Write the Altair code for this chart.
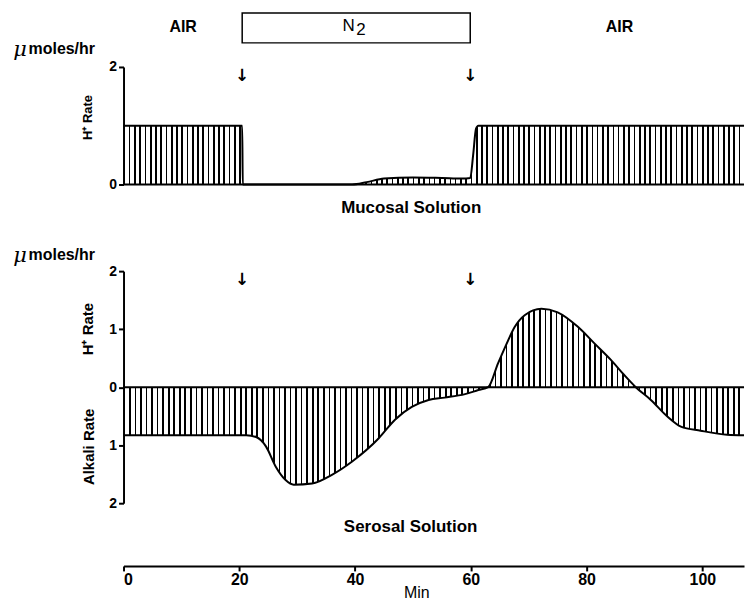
import altair as alt
import pandas as pd

# ---- data ----
mucosal_min = [0, 20.5, 20.6, 39.5, 42.0, 45.0, 50.0, 55.0, 58.5, 59.9, 60.4, 60.9, 61.3, 107.2]
mucosal_rate = [1.0, 1.0, 0.0, 0.0, 0.04, 0.10, 0.12, 0.11, 0.10, 0.11, 0.5, 0.95, 1.0, 1.0]

serosal_min = [0, 21.2, 22.9, 24.6, 26.3, 28.0, 29.4, 32.6, 36.0, 39.5, 44.1, 46.9, 49.8, 52.7,
               55.5, 59.0, 61.3, 63.0, 64.7, 66.1, 67.6, 69.3, 72.2, 75.0, 78.5, 81.4, 84.2,
               86.5, 88.5, 91.1, 94.0, 96.3, 99.7, 104.3, 107.2]
serosal_rate = [-0.83, -0.83, -0.86, -1.02, -1.37, -1.60, -1.68, -1.66, -1.51, -1.28, -0.88, -0.56,
                -0.34, -0.22, -0.18, -0.12, -0.05, 0.0, 0.41, 0.73, 1.04, 1.24, 1.35, 1.29, 1.04,
                0.75, 0.47, 0.21, 0.0, -0.22, -0.51, -0.68, -0.75, -0.82, -0.83]

x_ticks = [0, 20, 40, 60, 80, 100]
top_y_ticks = [0, 1, 2]
bottom_y_ticks = [-2, -1, 0, 1, 2]

XMAX = 107.2
PLOT_W = 623
FONT = "Liberation Sans"

mucosal = pd.DataFrame({"min": mucosal_min, "rate": mucosal_rate})
serosal = pd.DataFrame({"min": serosal_min, "rate": serosal_rate})
one = alt.Data(values=[{"k": 0}])


def stripes(n, w):
    stops = []
    for k in range(n):
        a = k / n
        b = (k + w) / n
        stops += [
            alt.GradientStop(offset=a, color="black"),
            alt.GradientStop(offset=b, color="black"),
            alt.GradientStop(offset=b, color="white"),
            alt.GradientStop(offset=(k + 1) / n, color="white"),
        ]
    return alt.LinearGradient(gradient="linear", stops=stops, x1=0, x2=1, y1=0, y2=0)


def label(text, x, y, size=16, weight="bold", angle=0, align="center", font=FONT, style="normal"):
    return alt.Chart(one).mark_text(
        text=text, fontSize=size, fontWeight=weight, angle=angle, align=align,
        baseline="middle", font=font, color="black", fontStyle=style
    ).encode(x=alt.datum(x), y=alt.datum(y))


xs = alt.Scale(domain=[0, XMAX], nice=False, zero=False)

# ---------------- top panel (mucosal) ----------------
top_y = alt.Y("rate:Q", scale=alt.Scale(domain=[0, 2], nice=False),
              axis=alt.Axis(values=top_y_ticks, title=None, tickSize=5, labelFontSize=14,
                            labelPadding=2, format="d"))
area_t = alt.Chart(mucosal).mark_area(interpolate="monotone", fill=stripes(118, 0.32)).encode(
    x=alt.X("min:Q", scale=xs, axis=None), y=top_y)
line_t = alt.Chart(mucosal).mark_line(interpolate="monotone", color="black", strokeWidth=2).encode(
    x="min:Q", y="rate:Q")
zero_t = alt.Chart(one).mark_rule(color="black", strokeWidth=2).encode(y=alt.datum(0))
box = alt.Chart(one).mark_rect(fill="white", stroke="black", strokeWidth=1.5).encode(
    x=alt.datum(20.5), x2=alt.datum(59.9), y=alt.datum(2.92), y2=alt.datum(2.41))

top = alt.layer(
    area_t, line_t, zero_t, box,
    label("AIR", 10.3, 2.68),
    label("N", 38.9, 2.70, size=17, weight="normal"),
    label("2", 41.0, 2.63, size=17, weight="normal"),
    label("AIR", 85.7, 2.68),
    label("↓", 20.5, 1.84, size=17, font="DejaVu Sans"),
    label("↓", 59.9, 1.84, size=17, font="DejaVu Sans"),
    label("μ", -17.9, 2.29, size=21, weight="normal", style="italic", font="DejaVu Serif"),
    label("moles/hr", -16.4, 2.31, size=16, align="left"),
    label("H⁺ Rate", -6.2, 1.14, size=13, angle=270),
    label("Mucosal Solution", 49.7, -0.40, size=17),
).properties(width=PLOT_W, height=118)

# ---------------- bottom panel (serosal) ----------------
bot_y = alt.Y("rate:Q", scale=alt.Scale(domain=[-2, 2], nice=False),
              axis=alt.Axis(values=bottom_y_ticks, title=None, tickSize=5, labelFontSize=14,
                            labelPadding=2, labelExpr="'' + abs(datum.value)"))
bot_x = alt.X("min:Q", scale=xs,
              axis=alt.Axis(values=x_ticks, offset=63, tickSize=5, labelFontSize=16,
                            labelPadding=1, title="Min", titleFontSize=16,
                            titleFontWeight="normal", titleX=294, titleY=27,
                            titleBaseline="middle"))
area_b = alt.Chart(serosal).mark_area(interpolate="monotone", fill=stripes(112, 0.3)).encode(
    x=bot_x, y=bot_y, y2=alt.datum(0))
line_b = alt.Chart(serosal).mark_line(interpolate="monotone", color="black", strokeWidth=2).encode(
    x="min:Q", y="rate:Q")
zero_b = alt.Chart(one).mark_rule(color="black", strokeWidth=2).encode(y=alt.datum(0))

bottom = alt.layer(
    area_b, line_b, zero_b,
    label("↓", 20.5, 1.845, size=17, font="DejaVu Sans"),
    label("↓", 59.9, 1.845, size=17, font="DejaVu Sans"),
    label("μ", -17.9, 2.26, size=21, weight="normal", style="italic", font="DejaVu Serif"),
    label("moles/hr", -16.4, 2.28, size=16, align="left"),
    label("H⁺ Rate", -6.2, 1.0, size=15, angle=270),
    label("Alkali Rate", -6.0, -1.03, size=15, angle=270),
    label("Serosal Solution", 49.6, -2.41, size=17),
).properties(width=PLOT_W, height=233)

chart = alt.vconcat(top, bottom, spacing=87, bounds="flush").resolve_scale(
    x="independent", y="independent"
).properties(
    padding={"left": 5, "top": 2, "right": 0, "bottom": 0}
).configure_view(stroke=None).configure_axis(
    domainColor="black", domainWidth=2, tickColor="black", tickWidth=2,
    labelColor="black", labelFont=FONT, labelFontWeight="bold",
    titleColor="black", titleFont=FONT, grid=False
)

chart.save("out.html", embed_options={"renderer": "svg", "actions": False})
